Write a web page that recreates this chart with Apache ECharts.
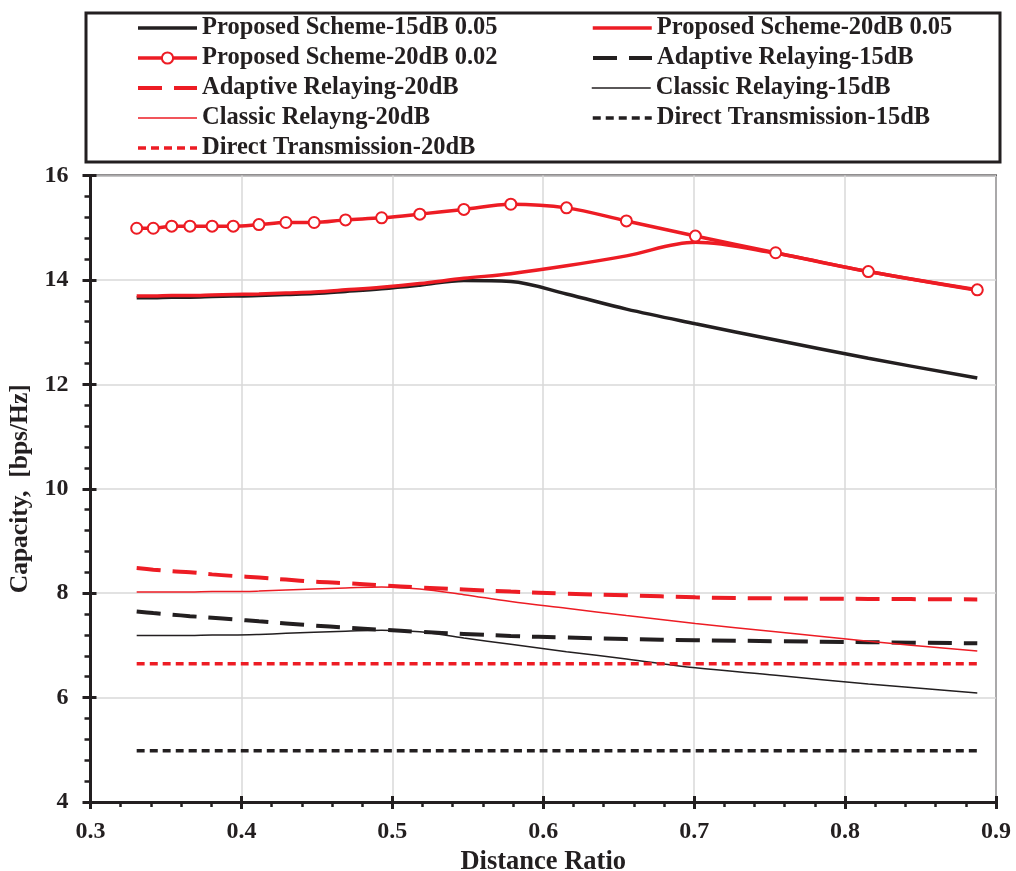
<!DOCTYPE html>
<html>
<head>
<meta charset="utf-8">
<script src="https://cdn.jsdelivr.net/npm/echarts@6/dist/echarts.min.js"></script>
<style>
  html, body { margin: 0; padding: 0; background: #fff; }
  #chart { width: 1016px; height: 871px; }
</style>
</head>
<body>
<div id="chart"></div>
<script>
// distance ratio sample points
const distanceRatio = [0.3306, 0.3416, 0.3538, 0.3659, 0.3806, 0.3946, 0.4116, 0.4295, 0.4482, 0.4690,
  0.4929, 0.5182, 0.5474, 0.5785, 0.6154, 0.6551, 0.7008, 0.7540, 0.8154, 0.8876];

const proposed15_005 = [13.66, 13.66, 13.67, 13.67, 13.68, 13.69, 13.70, 13.72, 13.74, 13.78,
  13.83, 13.90, 13.99, 13.97, 13.73, 13.44, 13.16, 12.85, 12.50, 12.12];
const proposed20_005 = [13.69, 13.69, 13.70, 13.70, 13.71, 13.72, 13.73, 13.75, 13.77, 13.81,
  13.86, 13.93, 14.03, 14.12, 14.27, 14.46, 14.72, 14.51, 14.16, 13.80];
const proposed20_002 = [14.99, 14.99, 15.03, 15.03, 15.03, 15.03, 15.06, 15.10, 15.10, 15.15,
  15.19, 15.26, 15.35, 15.45, 15.38, 15.13, 14.84, 14.52, 14.16, 13.81];
const adaptive15 = [7.65, 7.62, 7.59, 7.56, 7.53, 7.50, 7.46, 7.42, 7.38, 7.34,
  7.30, 7.26, 7.22, 7.18, 7.15, 7.12, 7.10, 7.08, 7.06, 7.04];
const adaptive20 = [8.48, 8.45, 8.42, 8.40, 8.36, 8.33, 8.30, 8.26, 8.22, 8.19,
  8.15, 8.11, 8.07, 8.03, 7.99, 7.96, 7.92, 7.90, 7.89, 7.88];
const classic15 = [7.19, 7.19, 7.19, 7.19, 7.20, 7.20, 7.21, 7.23, 7.25, 7.27,
  7.29, 7.26, 7.14, 7.02, 6.88, 6.74, 6.57, 6.43, 6.26, 6.09];
const classic20 = [8.02, 8.02, 8.02, 8.02, 8.03, 8.03, 8.04, 8.06, 8.08, 8.10,
  8.12, 8.08, 7.97, 7.84, 7.71, 7.57, 7.42, 7.26, 7.08, 6.89];
const direct15 = [4.98, 4.98, 4.98, 4.98, 4.98, 4.98, 4.98, 4.98, 4.98, 4.98,
  4.98, 4.98, 4.98, 4.98, 4.98, 4.98, 4.98, 4.98, 4.98, 4.98];
const direct20 = [6.65, 6.65, 6.65, 6.65, 6.65, 6.65, 6.65, 6.65, 6.65, 6.65,
  6.65, 6.65, 6.65, 6.65, 6.65, 6.65, 6.65, 6.65, 6.65, 6.65];

const RED = '#ed1c24';
const BLACK = '#231f20';
const FONT = '"Liberation Serif", "Times New Roman", serif';

const pairs = (ys) => ys.map((y, i) => [distanceRatio[i], y]);

const legendItems = [];

function line(name, ys, color, width, type, extra) {
  const hasMarker = !!(extra && extra.symbol);
  legendItems.push({
    name,
    lineStyle: { color, width, type },
    // line-only icon unless the series has markers
    itemStyle: hasMarker ? { color: RED, borderColor: RED, borderWidth: 1.5 } : { opacity: 0 },
  });
  return Object.assign({
    name,
    type: 'line',
    data: pairs(ys),
    smooth: 0.35,
    symbol: 'none',
    lineStyle: { color, width, type },
    itemStyle: { color },
    emphasis: { disabled: true },
  }, extra || {});
}

const series = [
  line('Proposed Scheme-15dB 0.05', proposed15_005, BLACK, 3.5, 'solid'),
  line('Proposed Scheme-20dB 0.05', proposed20_005, RED, 3.5, 'solid'),
  line('Proposed Scheme-20dB 0.02', proposed20_002, RED, 3.5, 'solid', {
    symbol: 'emptyCircle',
    symbolSize: 11,
    itemStyle: { color: RED, borderColor: RED, borderWidth: 1.5 },
  }),
  line('Adaptive Relaying-15dB', adaptive15, BLACK, 4, [24, 12]),
  line('Adaptive Relaying-20dB', adaptive20, RED, 4, [24, 12]),
  line('Classic Relaying-15dB', classic15, BLACK, 1.5, 'solid'),
  line('Classic Relayng-20dB', classic20, RED, 1.5, 'solid'),
  line('Direct Transmission-15dB', direct15, BLACK, 3.5, [8, 5]),
  line('Direct Transmission-20dB', direct20, RED, 3.5, [8, 5]),
];

const chart = echarts.init(document.getElementById('chart'));

chart.setOption({
  animation: false,
  textStyle: { fontFamily: FONT },
  graphic: [{
    type: 'rect',
    shape: { x: 86, y: 13, width: 914, height: 149 },
    style: { fill: 'none', stroke: BLACK, lineWidth: 3 },
  }],
  legend: {
    left: 136,
    top: 15,
    width: 930,
    itemWidth: 59,
    itemHeight: 14,
    itemGap: 4,
    padding: 0,
    data: legendItems,
    textStyle: {
      fontFamily: FONT, fontWeight: 'bold', fontSize: 24.5, color: BLACK,
      width: 385, lineHeight: 26,
    },
  },
  grid: {
    left: 90.5, right: 20, top: 175.5, bottom: 69,
    outerBoundsMode: 'none',
    containLabel: false,
    show: true, borderColor: BLACK, borderWidth: 2,
  },
  xAxis: [{
    type: 'value',
    min: 0.3, max: 0.9, interval: 0.1,
    name: 'Distance Ratio',
    nameLocation: 'middle',
    nameGap: 43,
    nameTextStyle: { fontFamily: FONT, fontWeight: 'bold', fontSize: 26.5, color: BLACK },
    axisLine: { lineStyle: { color: BLACK, width: 3 } },
    axisTick: { length: 7, lineStyle: { color: BLACK, width: 3 } },
    minorTick: { show: true, splitNumber: 5, length: 5, lineStyle: { color: BLACK, width: 2.5 } },
    axisLabel: {
      margin: 18, fontFamily: FONT, fontWeight: 'bold', fontSize: 24, color: BLACK,
      formatter: (v) => v.toFixed(1),
    },
    splitLine: { lineStyle: { color: '#d9d9d9', width: 1.5 } },
  }, {
    type: 'value',
    min: 0.3, max: 0.9, interval: 0.1,
    position: 'bottom',
    axisLine: { show: false },
    axisTick: { inside: true, length: 6, lineStyle: { color: BLACK, width: 3 } },
    axisLabel: { show: false },
    splitLine: { show: false },
  }],
  yAxis: [{
    type: 'value',
    min: 4, max: 16, interval: 2,
    name: 'Capacity,  [bps/Hz]',
    nameLocation: 'middle',
    nameGap: 56,
    nameTextStyle: { fontFamily: FONT, fontWeight: 'bold', fontSize: 25.5, color: BLACK },
    axisLine: { show: true, lineStyle: { color: BLACK, width: 3 } },
    axisTick: { show: true, length: 8, lineStyle: { color: BLACK, width: 3 } },
    minorTick: { show: true, splitNumber: 5, length: 6, lineStyle: { color: BLACK, width: 2.5 } },
    axisLabel: { margin: 22, fontFamily: FONT, fontWeight: 'bold', fontSize: 24, color: BLACK },
    splitLine: { lineStyle: { color: '#d9d9d9', width: 1.5 } },
  }, {
    type: 'value',
    min: 4, max: 16, interval: 2,
    position: 'left',
    axisLine: { show: false },
    axisTick: { show: true, inside: true, length: 6, lineStyle: { color: BLACK, width: 3 } },
    axisLabel: { show: false },
    splitLine: { show: false },
  }],
  series,
});

window.addEventListener('resize', () => chart.resize());
</script>
</body>
</html>
